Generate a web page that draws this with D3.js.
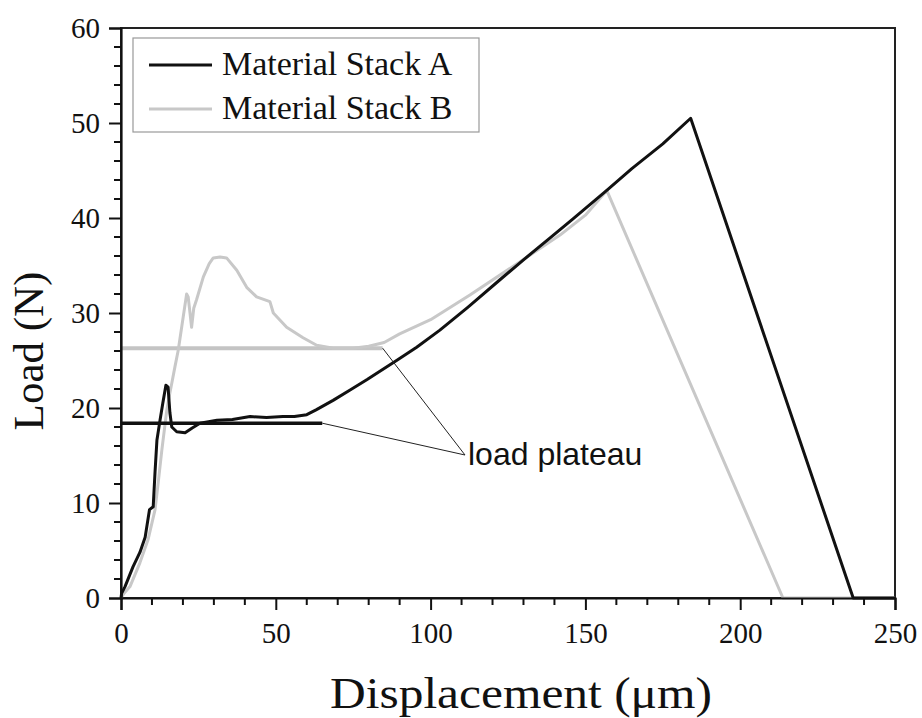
<!DOCTYPE html>
<html><head><meta charset="utf-8">
<script src="https://cdn.jsdelivr.net/npm/d3@7"></script>
<style>body{margin:0;background:#fff}</style>
</head><body>
<script>
// ---- data ----
const seriesNames = ["Material Stack A", "Material Stack B"];
const stackA_x = [0,0.2,1.3,3.9,6.1,7.8,9.2,10.4,11,11.6,12.6,13.5,14.5,15.2,15.8,16.4,18,20.7,23,25.5,31,36,41.7,47,52.3,56,60,63,68.5,74,79.5,89,95.5,103,112,122.4,130,138.6,146,156.9,165,175,184,236.5,250];
const stackA_y = [0,0.5,1.2,3.3,4.8,6.4,9.3,9.6,13.3,16.6,18.7,20.5,22.4,22.2,19.5,18,17.5,17.4,17.9,18.4,18.7,18.8,19.1,19.0,19.1,19.1,19.3,19.8,20.8,21.9,23.0,25.0,26.4,28.2,30.6,33.5,35.6,37.9,39.9,42.9,45.2,47.8,50.5,0,0];
const stackB_x = [0,1,2.9,6.1,8.7,11,12,13.2,14.8,15.8,16.4,17.4,18.5,20.1,21.2,21.7,22.8,23.5,24.4,26.6,28.5,29.8,32,34.1,37.4,40.6,43.8,48.1,49.2,53.5,58.8,63.2,68.6,75,80,85,90,100,112.7,128.9,141.8,150,156.9,213.8,250];
const stackB_y = [0,0.5,1.2,3.7,6.1,9.3,12.1,15.6,19.8,21.6,22.6,24.3,26.1,29.6,32,31.7,28.5,30.5,31.4,33.8,35.2,35.8,35.9,35.8,34.5,32.7,31.7,31.2,30,28.5,27.4,26.6,26.3,26.3,26.5,26.9,27.8,29.3,31.9,35.4,38.2,40.3,42.9,0,0];
const plateauA = {level: 18.4, xEnd: 65};
const plateauB = {level: 26.3, xEnd: 84.5};
const annotationText = "load plateau";
const xTicks = [0,50,100,150,200,250];
const yTicks = [0,10,20,30,40,50,60];
const xLabel = "Displacement (\u03bcm)";
const yLabel = "Load (N)";

// ---- layout ----
const W = 922, H = 718;
const L = 121, R = 895, T = 28, B = 598;
const svg = d3.select("body").append("svg").attr("width", W).attr("height", H)
  .style("font-family", "'Liberation Serif','Times New Roman',serif");

const x = d3.scaleLinear().domain([0,250]).range([L,R]);
const y = d3.scaleLinear().domain([0,60]).range([B,T]);

// frame
svg.append("rect").attr("x",L).attr("y",T).attr("width",R-L).attr("height",B-T)
  .attr("fill","none").attr("stroke","#222").attr("stroke-width",2);

// plateau B
svg.append("line").attr("x1",x(0)).attr("x2",x(plateauB.xEnd)).attr("y1",y(plateauB.level)).attr("y2",y(plateauB.level))
  .attr("stroke","#c4c4c4").attr("stroke-width",4);

const line = d3.line().x(d=>x(d[0])).y(d=>y(d[1]));
const dataA = stackA_x.map((v,i)=>[v,stackA_y[i]]);
const dataB = stackB_x.map((v,i)=>[v,stackB_y[i]]);

svg.append("path").datum(dataB).attr("d",line).attr("fill","none")
  .attr("stroke","#c8c8c8").attr("stroke-width",3).attr("stroke-linejoin","round");
svg.append("path").datum(dataA).attr("d",line).attr("fill","none")
  .attr("stroke","#111").attr("stroke-width",3).attr("stroke-linejoin","round");

// plateau A
svg.append("line").attr("x1",x(0)).attr("x2",x(plateauA.xEnd)).attr("y1",y(plateauA.level)).attr("y2",y(plateauA.level))
  .attr("stroke","#111").attr("stroke-width",3.5);

// annotation
const ax = 465, ay = 455;
svg.append("line").attr("x1",x(plateauA.xEnd)).attr("y1",y(plateauA.level)).attr("x2",ax).attr("y2",ay)
  .attr("stroke","#222").attr("stroke-width",1);
svg.append("line").attr("x1",x(plateauB.xEnd)).attr("y1",y(plateauB.level)).attr("x2",ax).attr("y2",ay)
  .attr("stroke","#222").attr("stroke-width",1);
svg.append("text").attr("x",468).attr("y",465).text(annotationText)
  .style("font-family","'Liberation Sans',Arial,sans-serif").style("font-size","32px").attr("fill","#111");

// axes
const xAxis = d3.axisBottom(x).tickValues(xTicks).tickSize(12).tickPadding(12).tickFormat(d3.format("d"));
const gx = svg.append("g").attr("transform",`translate(0,${B})`).call(xAxis);
const yAxis = d3.axisLeft(y).tickValues(yTicks).tickSize(12).tickPadding(9).tickFormat(d3.format("d"));
const gy = svg.append("g").attr("transform",`translate(${L},0)`).call(yAxis);
[gx,gy].forEach(g=>{
  g.select(".domain").attr("stroke","#111").attr("stroke-width",2.2);
  g.selectAll(".tick line").attr("stroke","#111").attr("stroke-width",2);
  g.selectAll("text").style("font-family","'Liberation Serif','Times New Roman',serif").style("font-size","29px").attr("fill","#111");
});
// minor ticks
const xMinor = d3.range(0,251,10).filter(v=>v%50!==0);
svg.append("g").selectAll("line").data(xMinor).join("line")
  .attr("x1",d=>x(d)).attr("x2",d=>x(d)).attr("y1",B).attr("y2",B+7).attr("stroke","#111").attr("stroke-width",2);
const yMinor = d3.range(0,61,2).filter(v=>v%10!==0);
svg.append("g").selectAll("line").data(yMinor).join("line")
  .attr("x1",L-7).attr("x2",L).attr("y1",d=>y(d)).attr("y2",d=>y(d)).attr("stroke","#111").attr("stroke-width",2);

// axis titles
svg.append("text").attr("x",330).attr("y",708).text(xLabel).style("font-size","45px")
  .attr("textLength",382).attr("lengthAdjust","spacingAndGlyphs").attr("fill","#111");
svg.append("text").attr("transform","translate(43,351) rotate(-90)").attr("text-anchor","middle")
  .text(yLabel).style("font-size","43px").attr("fill","#111");

// legend
const lg = svg.append("g");
lg.append("rect").attr("x",133).attr("y",38).attr("width",346).attr("height",94)
  .attr("fill","#fff").attr("stroke","#999").attr("stroke-width",1.2);
const legColors = ["#111","#c8c8c8"];
const legY = [65,109];
seriesNames.forEach((n,i)=>{
  lg.append("line").attr("x1",149).attr("x2",212).attr("y1",legY[i]).attr("y2",legY[i])
    .attr("stroke",legColors[i]).attr("stroke-width",3);
  lg.append("text").attr("x",222).attr("y",legY[i]+10).text(n).style("font-size","34px").attr("fill","#111");
});
</script>
</body></html>
